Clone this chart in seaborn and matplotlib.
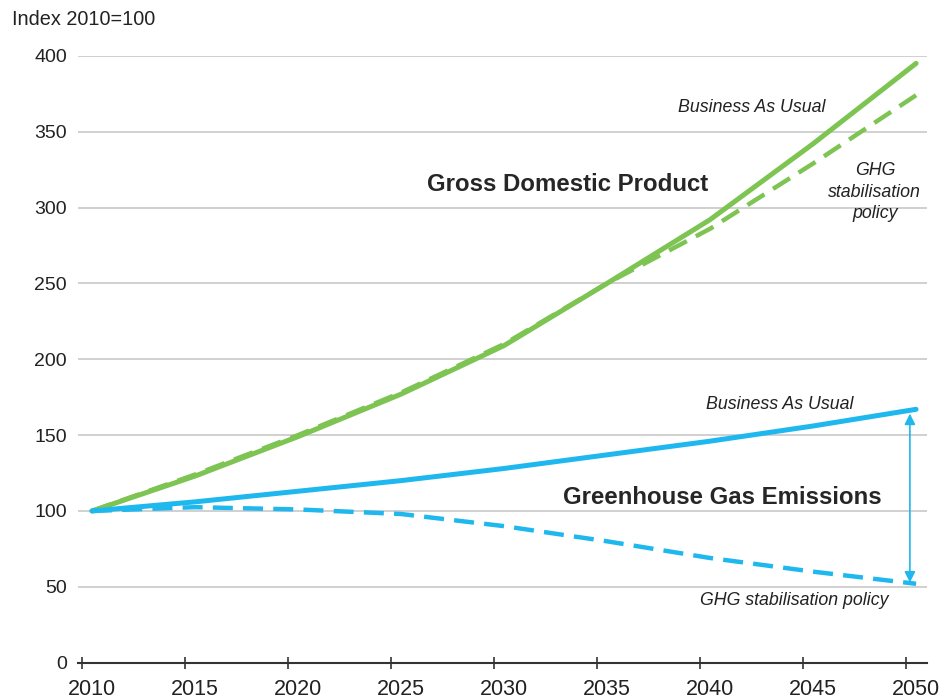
import numpy as np
import pandas as pd
import matplotlib
matplotlib.use("Agg")
import matplotlib.pyplot as plt
import seaborn as sns

sns.set_style("white")
plt.rcParams['font.family'] = ['Liberation Sans', 'DejaVu Sans']

years = [2010, 2015, 2020, 2025, 2030, 2035, 2040, 2045, 2050]
gdp_bau = [100, 123, 149, 177, 209, 250, 292, 342, 395]
gdp_policy = [100, 124, 150, 178, 210, 250, 286, 329, 374]
ghg_bau = [100, 106, 113, 120, 128, 137, 146, 156, 167]
ghg_policy = [100, 102.5, 101, 98, 90, 80, 69, 60, 52]

green = '#7dc452'
blue = '#1fb8ee'
txt = '#222222'

df = pd.DataFrame({'year': years, 'gdp_bau': gdp_bau, 'gdp_policy': gdp_policy,
                   'ghg_bau': ghg_bau, 'ghg_policy': ghg_policy})

fig = plt.figure(figsize=(9.47, 7.0), dpi=100)
ax = fig.add_axes([78 / 947, 0.0533, 849 / 947, 0.867])

dash = (0, (4.5, 2.3))
sns.lineplot(data=df, x='year', y='gdp_policy', ax=ax, color=green, lw=3.2, linestyle=dash)
sns.lineplot(data=df, x='year', y='gdp_bau', ax=ax, color=green, lw=3.6)
sns.lineplot(data=df, x='year', y='ghg_policy', ax=ax, color=blue, lw=3.2, linestyle=dash)
sns.lineplot(data=df, x='year', y='ghg_bau', ax=ax, color=blue, lw=3.6)

ax.set_xlim(2009.32, 2050.53)
ax.set_ylim(0, 400)
ax.set_xticks(years)
ax.set_xticks([y - 0.5 for y in years], minor=True)
ax.set_yticks(range(0, 401, 50))
ax.set_xlabel('')
ax.set_ylabel('')
ax.yaxis.grid(True, color='#c8c8c8', lw=1.2)
ax.xaxis.grid(False)
for s in ['top', 'right', 'left']:
    ax.spines[s].set_visible(False)
ax.spines['bottom'].set_color('#333333')
ax.spines['bottom'].set_linewidth(1.5)
ax.tick_params(axis='x', which='major', length=0, labelsize=15.5, labelcolor=txt, pad=12)
ax.tick_params(axis='x', which='minor', bottom=True, direction='inout', length=8, width=1.2, color='#333333')
ax.tick_params(axis='y', length=0, labelsize=14, labelcolor=txt, pad=8)
for ln in ax.lines:
    ln.set_clip_on(False)

# double arrow between emission scenarios
ax.annotate('', xy=(2049.7, ghg_policy[-1] - 1), xytext=(2049.7, ghg_bau[-1] - 1),
            arrowprops=dict(arrowstyle='<|-|>', color=blue, lw=1.2, mutation_scale=16))

fig.text(0.013, 0.972, 'Index 2010=100', fontsize=14.3, color=txt, va='center')
ax.text(2033.1, 315, 'Gross Domestic Product', fontsize=17.3, fontweight='bold', ha='center', va='center')
ax.text(2040.6, 109, 'Greenhouse Gas Emissions', fontsize=17.3, fontweight='bold', ha='center', va='center')
ax.text(2042.0, 366, 'Business As Usual', fontsize=12.8, style='italic', ha='center', va='center', color=txt)
ax.text(2048.0, 310, 'GHG\nstabilisation\npolicy', fontsize=12.8, style='italic', ha='center', va='center',
        color=txt, linespacing=1.35)
ax.text(2043.4, 170, 'Business As Usual', fontsize=12.8, style='italic', ha='center', va='center', color=txt)
ax.text(2044.1, 41, 'GHG stabilisation policy', fontsize=12.8, style='italic', ha='center', va='center', color=txt)

fig.savefig('out.png', dpi=100)
